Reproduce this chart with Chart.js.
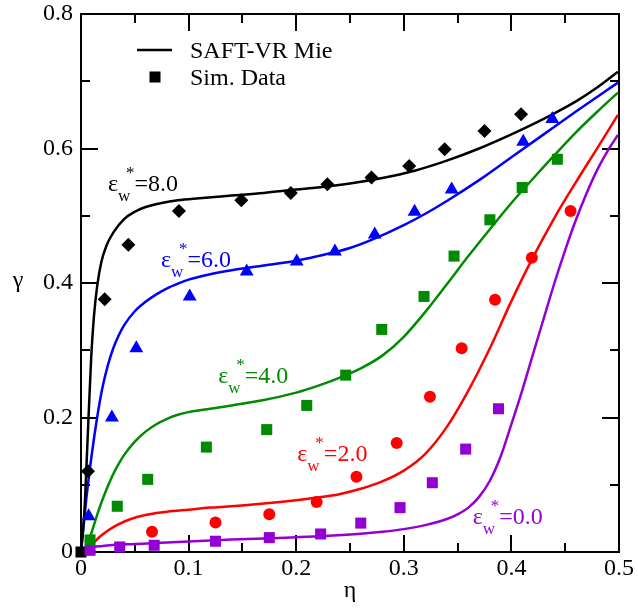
<!DOCTYPE html>
<html>
<head>
<meta charset="utf-8">
<script src="https://cdn.jsdelivr.net/npm/chart.js@4.4.1/dist/chart.umd.min.js"></script>
<style>
  html, body { margin: 0; padding: 0; background: #fff; }
  canvas { display: block; }
</style>
</head>
<body>
<canvas id="chart" width="638" height="609"></canvas>
<script>
// ---- axis tick labels ----
const etaTickLabels = [0, 0.1, 0.2, 0.3, 0.4, 0.5];
const gammaTickLabels = [0, 0.2, 0.4, 0.6, 0.8];

// ---- well depths (reduced) ----
const wellDepths = ['8.0', '6.0', '4.0', '2.0', '0.0'];

// ---- simulation data: packing fraction eta vs. adsorption gamma ----
const simEta8 = [0.0065, 0.022, 0.044, 0.091, 0.149, 0.195, 0.229, 0.270, 0.305, 0.338, 0.375, 0.409];
const simGamma8 = [0.120, 0.376, 0.457, 0.507, 0.523, 0.534, 0.547, 0.557, 0.574, 0.599, 0.626, 0.651];

const simEta6 = [0.0071, 0.0287, 0.0514, 0.101, 0.154, 0.2005, 0.236, 0.273, 0.310, 0.3445, 0.411, 0.438];
const simGamma6 = [0.053, 0.200, 0.303, 0.380, 0.417, 0.432, 0.447, 0.472, 0.506, 0.539, 0.610, 0.644];

const simEta4 = [0.0084, 0.0337, 0.062, 0.1165, 0.1726, 0.2098, 0.246, 0.2795, 0.3188, 0.3467, 0.380, 0.410, 0.4427];
const simGamma4 = [0.018, 0.068, 0.108, 0.156, 0.182, 0.218, 0.263, 0.331, 0.380, 0.440, 0.494, 0.542, 0.584];

const simEta2 = [0.066, 0.125, 0.175, 0.219, 0.256, 0.2934, 0.3243, 0.3538, 0.3848, 0.419, 0.455];
const simGamma2 = [0.030, 0.044, 0.056, 0.0745, 0.112, 0.162, 0.231, 0.303, 0.375, 0.4375, 0.507];

const simEta0 = [0.0084, 0.036, 0.068, 0.125, 0.175, 0.2227, 0.260, 0.2965, 0.3265, 0.3575, 0.388];
const simGamma0 = [0.0025, 0.0075, 0.010, 0.016, 0.0214, 0.0268, 0.043, 0.066, 0.103, 0.153, 0.213];

const simEtaOrigin = [0];
const simGammaOrigin = [0];

// ---- SAFT-VR Mie theory curves ----
const saftEta8 = [0, 0.002, 0.0035, 0.005, 0.007, 0.0095, 0.012, 0.015, 0.019, 0.024, 0.03, 0.04, 0.05, 0.06, 0.075, 0.09, 0.11, 0.14, 0.17, 0.20, 0.22, 0.25, 0.28, 0.31, 0.34, 0.37, 0.40, 0.43, 0.46, 0.48, 0.499];
const saftGamma8 = [0, 0.035, 0.07, 0.125, 0.20, 0.29, 0.35, 0.395, 0.432, 0.457, 0.475, 0.495, 0.506, 0.513, 0.519, 0.523, 0.526, 0.530, 0.534, 0.539, 0.542, 0.548, 0.556, 0.567, 0.582, 0.600, 0.621, 0.644, 0.670, 0.691, 0.714];

const saftEta6 = [0, 0.0035, 0.005, 0.01, 0.015, 0.02, 0.025, 0.03, 0.035, 0.04, 0.05, 0.06, 0.07, 0.08, 0.09, 0.10, 0.12, 0.14, 0.17, 0.20, 0.22, 0.25, 0.27, 0.30, 0.32, 0.34, 0.37, 0.40, 0.43, 0.46, 0.499];
const saftGamma6 = [0, 0.056, 0.08, 0.145, 0.20, 0.245, 0.278, 0.303, 0.322, 0.337, 0.358, 0.372, 0.383, 0.392, 0.399, 0.405, 0.413, 0.419, 0.426, 0.433, 0.440, 0.452, 0.464, 0.486, 0.503, 0.522, 0.553, 0.587, 0.621, 0.655, 0.698];

const saftEta4 = [0.004, 0.008, 0.012, 0.016, 0.02, 0.025, 0.03, 0.035, 0.04, 0.05, 0.06, 0.07, 0.08, 0.09, 0.10, 0.12, 0.14, 0.17, 0.20, 0.22, 0.24, 0.26, 0.28, 0.30, 0.32, 0.34, 0.36, 0.38, 0.40, 0.42, 0.44, 0.46, 0.48, 0.499];
const saftGamma4 = [0, 0.020, 0.040, 0.060, 0.078, 0.098, 0.116, 0.131, 0.144, 0.164, 0.179, 0.190, 0.198, 0.204, 0.208, 0.213, 0.218, 0.226, 0.237, 0.247, 0.259, 0.273, 0.292, 0.320, 0.357, 0.398, 0.440, 0.480, 0.519, 0.555, 0.590, 0.624, 0.655, 0.683];

const saftEta2 = [0.006, 0.01, 0.015, 0.02, 0.03, 0.04, 0.05, 0.06, 0.07, 0.08, 0.10, 0.12, 0.14, 0.17, 0.20, 0.22, 0.24, 0.26, 0.28, 0.30, 0.32, 0.34, 0.36, 0.38, 0.40, 0.42, 0.44, 0.46, 0.48, 0.499];
const saftGamma2 = [0.004, 0.011, 0.019, 0.026, 0.037, 0.045, 0.051, 0.055, 0.058, 0.060, 0.063, 0.066, 0.068, 0.072, 0.077, 0.081, 0.086, 0.094, 0.105, 0.121, 0.146, 0.186, 0.240, 0.303, 0.373, 0.438, 0.497, 0.550, 0.601, 0.650];

const saftEta0 = [0, 0.005, 0.02, 0.05, 0.08, 0.11, 0.14, 0.17, 0.20, 0.23, 0.26, 0.28, 0.30, 0.32, 0.34, 0.35, 0.36, 0.37, 0.38, 0.39, 0.40, 0.41, 0.42, 0.43, 0.44, 0.45, 0.46, 0.47, 0.48, 0.49, 0.499];
const saftGamma0 = [0, 0.005, 0.009, 0.012, 0.014, 0.0165, 0.0185, 0.020, 0.022, 0.024, 0.027, 0.030, 0.034, 0.040, 0.049, 0.056, 0.066, 0.082, 0.106, 0.142, 0.190, 0.240, 0.294, 0.347, 0.400, 0.449, 0.494, 0.534, 0.569, 0.598, 0.620];

// ---- styling ----
const SERIF = '"Liberation Serif", "Times New Roman", serif';
const colours = ['#000000', '#0000ff', '#008b00', '#ff0000', '#9400d3'];

const pairs = (xs, ys) => xs.map((x, i) => ({ x: x, y: ys[i] }));

function curve(xs, ys, colour) {
  return {
    type: 'line',
    data: pairs(xs, ys),
    borderColor: colour,
    backgroundColor: colour,
    borderWidth: 2.5,
    pointRadius: 0,
    pointHoverRadius: 0,
    showLine: true,
    fill: false,
    cubicInterpolationMode: 'monotone',
    clip: false,
    order: 2
  };
}

function markers(xs, ys, colour, style, radius) {
  return {
    type: 'scatter',
    data: pairs(xs, ys),
    borderColor: colour,
    backgroundColor: colour,
    pointStyle: style,
    pointRadius: radius,
    pointHoverRadius: radius,
    pointBorderWidth: 0,
    showLine: false,
    clip: false,
    order: 1
  };
}

const datasets = [
  curve(saftEta8, saftGamma8, colours[0]),
  curve(saftEta6, saftGamma6, colours[1]),
  curve(saftEta4, saftGamma4, colours[2]),
  curve(saftEta2, saftGamma2, colours[3]),
  curve(saftEta0, saftGamma0, colours[4]),
  markers(simEta8, simGamma8, colours[0], 'rectRot', 7),
  markers(simEta6, simGamma6, colours[1], 'triangle', 8),
  markers(simEta4, simGamma4, colours[2], 'rect', 7.8),
  markers(simEta2, simGamma2, colours[3], 'circle', 6),
  markers(simEta0, simGamma0, colours[4], 'rect', 7.8),
  markers(simEtaOrigin, simGammaOrigin, colours[0], 'rect', 7.8)
];

// curve label anchors (data units: left edge of epsilon, text baseline)
const labelEta = [0.0251, 0.0743, 0.1275, 0.201, 0.364];
const labelGamma = [0.537, 0.424, 0.251, 0.136, 0.041];

const isOnGrid = (v, step) => Math.abs(v / step - Math.round(v / step)) < 1e-6;

// frame with inward ticks on all four sides
const framePlugin = {
  id: 'frame',
  beforeDatasetsDraw(chart) {
    const { ctx, chartArea: a, scales: { x, y } } = chart;
    ctx.save();
    ctx.strokeStyle = '#000';
    ctx.lineWidth = 2;
    ctx.strokeRect(a.left, a.top, a.right - a.left, a.bottom - a.top);
    ctx.beginPath();
    x.ticks.forEach(t => {
      const px = Math.round(x.getPixelForValue(t.value));
      const len = isOnGrid(t.value, 0.1) ? 17 : 9;
      ctx.moveTo(px, a.bottom); ctx.lineTo(px, a.bottom - len);
      ctx.moveTo(px, a.top); ctx.lineTo(px, a.top + len);
    });
    y.ticks.forEach(t => {
      const py = Math.round(y.getPixelForValue(t.value));
      const len = isOnGrid(t.value, 0.2) ? 17 : 9;
      ctx.moveTo(a.left, py); ctx.lineTo(a.left + len, py);
      ctx.moveTo(a.right, py); ctx.lineTo(a.right - len, py);
    });
    ctx.stroke();
    ctx.restore();
  }
};

// legend, axis titles and well-depth labels
const textPlugin = {
  id: 'texts',
  afterDraw(chart) {
    const { ctx, chartArea: a, scales: { x, y } } = chart;
    ctx.save();
    ctx.textBaseline = 'alphabetic';

    // axis titles
    ctx.fillStyle = '#000';
    ctx.font = '24px ' + SERIF;
    ctx.textAlign = 'center';
    ctx.fillText('η', (a.left + a.right) / 2, 597);
    ctx.fillText('γ', 18, 287);

    // legend
    ctx.textAlign = 'left';
    ctx.strokeStyle = '#000';
    ctx.lineWidth = 2.5;
    ctx.beginPath();
    ctx.moveTo(137, 50);
    ctx.lineTo(172, 50);
    ctx.stroke();
    ctx.fillRect(149.5, 71.5, 11, 11);
    ctx.fillText('SAFT-VR Mie', 190, 58);
    ctx.fillText('Sim. Data', 190, 85);

    // well-depth labels: epsilon_w^* = value
    wellDepths.forEach((val, i) => {
      const x0 = x.getPixelForValue(labelEta[i]);
      const yb = y.getPixelForValue(labelGamma[i]);
      ctx.fillStyle = colours[i];
      ctx.font = '24px ' + SERIF;
      ctx.fillText('ε', x0, yb);
      const xw = x0 + ctx.measureText('ε').width;
      ctx.font = '17px ' + SERIF;
      ctx.fillText('w', xw, yb + 10);
      const xs = xw + 8;
      ctx.fillText('*', xs, yb - 13);
      const xr = xs + ctx.measureText('*').width;
      ctx.font = '24px ' + SERIF;
      ctx.fillText('=' + val, xr, yb);
    });
    ctx.restore();
  }
};

function build() {
  new Chart(document.getElementById('chart'), {
    type: 'scatter',
    data: { datasets: datasets },
    options: {
      responsive: false,
      animation: false,
      events: [],
      layout: { padding: { top: 14, right: 19, left: 0, bottom: 0 } },
      plugins: {
        legend: { display: false },
        tooltip: { enabled: false },
        title: { display: false }
      },
      scales: {
        x: {
          type: 'linear',
          min: 0,
          max: 0.5,
          grid: { display: false, drawTicks: false },
          border: { display: false },
          ticks: {
            stepSize: 0.05,
            autoSkip: false,
            maxRotation: 0,
            padding: 2,
            color: '#000',
            font: { family: SERIF, size: 24 },
            callback: v => etaTickLabels.some(t => Math.abs(t - v) < 1e-6) ? (v === 0 ? '0' : v.toFixed(1)) : ''
          },
          afterFit: s => { s.height = 57; s.paddingLeft = 0; s.paddingRight = 0; }
        },
        y: {
          type: 'linear',
          min: 0,
          max: 0.8,
          grid: { display: false, drawTicks: false },
          border: { display: false },
          ticks: {
            stepSize: 0.1,
            autoSkip: false,
            padding: 8,
            color: '#000',
            font: { family: SERIF, size: 24 },
            callback: v => gammaTickLabels.some(t => Math.abs(t - v) < 1e-6) ? (v === 0 ? '0' : v.toFixed(1)) : ''
          },
          afterFit: s => { s.width = 81; s.paddingTop = 0; s.paddingBottom = 0; }
        }
      }
    },
    plugins: [framePlugin, textPlugin]
  });
}

if (document.fonts && document.fonts.load) {
  Promise.all([
    document.fonts.load('24px "Liberation Serif"'),
    document.fonts.load('17px "Liberation Serif"')
  ]).then(build, build);
} else {
  build();
}
</script>
</body>
</html>
